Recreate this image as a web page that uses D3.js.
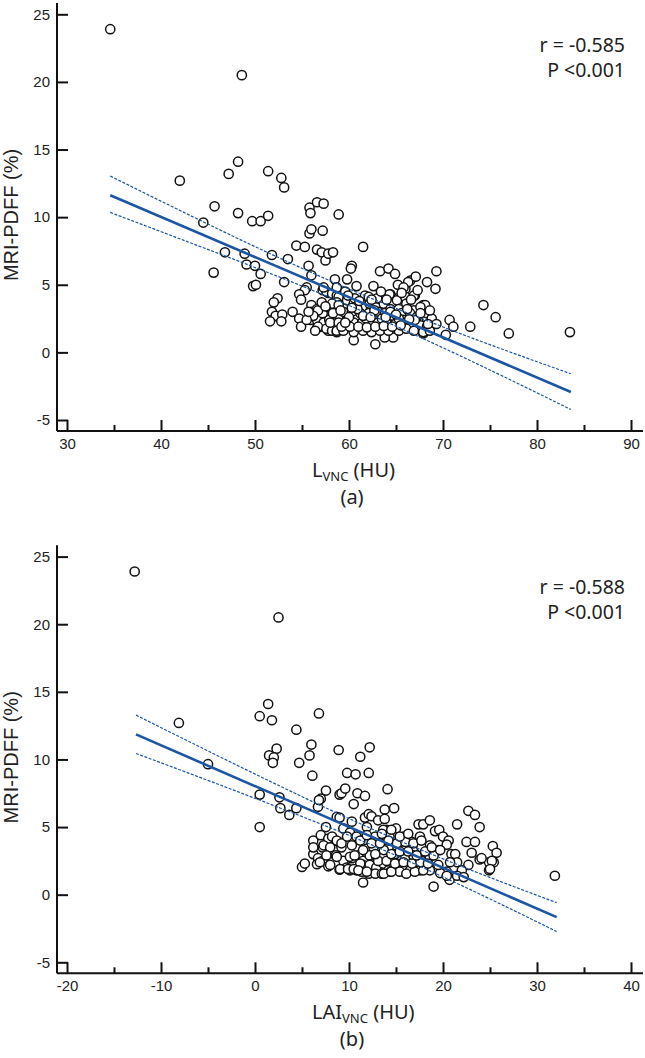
<!DOCTYPE html>
<html>
<head>
<meta charset="utf-8">
<script src="https://cdn.jsdelivr.net/npm/d3@7"></script>
<style>
  body { margin:0; background:#fff; }
  svg text { white-space: pre; }
</style>
</head>
<body>
<svg id="chart" width="645" height="1058"></svg>
<script>
// panel (a): L_VNC (HU) vs MRI-PDFF (%)
var puntosA = [
  [34.6,23.9],[48.6,20.5],[42.0,12.7],[47.2,13.2],[48.2,14.1],[45.7,10.8],[48.2,10.3],[51.4,13.4],[52.8,12.9],[53.1,12.2],
  [55.8,10.7],[55.9,10.3],[56.6,11.1],[57.3,11.0],[44.5,9.6],[49.7,9.7],[50.6,9.7],[51.4,10.1],[55.8,8.8],[56.0,9.1],
  [57.2,9.0],[58.9,10.2],[46.8,7.4],[45.6,5.9],[48.9,7.3],[49.1,6.5],[50.0,6.4],[50.6,5.8],[49.8,4.9],[50.1,5.0],
  [51.8,7.2],[53.5,6.9],[53.1,5.2],[54.4,7.9],[55.3,7.8],[55.7,6.4],[56.0,5.7],[55.5,4.8],[55.3,4.6],[54.7,4.3],
  [54.9,3.9],[52.4,4.0],[52.0,3.7],[51.8,3.0],[52.2,2.7],[52.9,2.8],[51.6,2.3],[52.8,2.3],[54.0,3.0],[54.7,2.5],
  [54.9,1.9],[56.6,7.6],[57.1,7.4],[57.5,6.8],[57.8,7.3],[58.3,7.4],[58.5,5.4],[61.5,7.8],[60.3,6.4],[60.2,6.2],
  [63.3,6.0],[64.2,6.2],[64.9,5.8],[66.5,5.3],[67.1,5.6],[69.3,6.0],[65.2,5.0],[66.0,4.7],[68.3,5.2],[69.2,4.7],
  [66.3,5.2],[59.8,5.4],[65.8,4.8],[74.3,3.5],[75.6,2.6],[77.0,1.4],[83.5,1.5],[70.7,2.4],[71.1,1.9],[72.9,1.9],
  [70.3,1.3],[67.9,1.4],[69.0,2.1],[68.3,2.5],[67.9,3.5],[67.0,4.2],[66.1,3.9],[65.2,4.0],[64.4,4.3],[62.8,0.6],
  [60.5,0.9],[64.7,1.1],[63.8,1.1],
  [56.0,3.5],[56.0,3.0],[56.6,3.2],[55.9,2.4],[56.6,2.4],[56.6,1.8],[57.1,1.9],[57.6,1.9],[57.8,1.6],[57.2,4.6],
  [57.8,4.4],[57.2,2.9],[57.6,4.5],[58.2,4.35],[58.7,4.2],[56.7,3.1],[56.2,2.7],[57.8,3.35],[58.3,3.1],[58.9,2.7],
  [57.3,2.2],[57.9,2.4],[58.5,2.2],[56.7,1.9],[57.6,1.75],[58.2,1.6],[58.7,1.5],[56.4,1.6],[55.5,2.4],[55.7,3.0],
  [57.3,4.8],[58.9,4.1],[58.7,3.7],[57.1,3.7],
  [58.7,4.8],[59.6,4.5],[60.8,4.9],[61.7,4.2],[62.6,4.9],[62.1,4.1],[63.3,3.7],[64.3,4.3],[65.1,3.85],[66.0,4.1],
  [66.9,4.2],[68.1,3.5],[58.2,3.6],[58.9,3.5],[59.8,3.85],[60.5,3.6],[61.4,3.35],[62.2,3.6],[62.9,3.35],[63.7,3.6],
  [64.4,3.2],[65.3,3.2],[66.1,3.6],[66.9,3.1],[67.6,3.35],[68.3,2.9],[68.8,2.5],[58.3,2.9],[59.4,3.0],[60.3,3.0],
  [61.2,2.9],[62.1,2.9],[63.1,3.0],[63.8,2.9],[64.7,2.7],[65.6,2.9],[66.5,2.9],[67.2,2.6],[58.0,2.2],[58.9,2.2],
  [59.8,2.4],[60.5,2.2],[61.4,2.2],[62.2,2.2],[63.1,2.2],[64.0,2.2],[64.9,2.1],[65.8,2.4],[66.7,2.1],[67.6,2.0],
  [68.3,1.9],[58.7,1.6],[59.4,1.6],[60.5,1.5],[61.5,1.6],[62.4,1.5],[63.3,1.6],[64.2,1.6],[65.3,1.6],[66.1,1.75],
  [66.9,1.6],[67.9,1.5],[68.6,1.6],[69.3,2.1],
  [59.1,3.1],[60.0,2.6],[60.9,3.2],[61.8,2.5],[62.7,3.1],[63.5,2.5],[64.4,3.0],[65.3,2.5],[66.2,3.2],[67.0,2.4],
  [59.2,1.9],[60.1,1.9],[61.0,1.9],[61.9,1.85],[62.8,1.9],[63.7,1.95],[64.6,1.9],[65.5,2.0],[66.4,2.45],[60.6,4.0],
  [61.1,3.8],[63.0,4.0],[64.0,3.9],[65.6,4.4],[66.6,3.9],[67.3,4.6],[67.6,2.9],[68.4,2.1],[68.6,3.1],[60.3,3.3],
  [62.4,3.9],[63.9,2.6],[65.0,2.8],[61.5,2.7],[59.9,4.2],[62.3,2.6],[57.5,3.4],[59.6,2.2],[63.4,4.5]
];

// panel (b): LAI_VNC (HU) vs MRI-PDFF (%)
var puntosB = [
  [-12.8,23.9],[2.5,20.5],[-8.1,12.7],[1.4,14.1],[0.5,13.2],[1.8,12.9],[4.4,12.2],[6.8,13.4],[2.3,10.8],[1.5,10.3],
  [2.0,10.15],[6.0,11.1],[5.8,10.3],[-5.0,9.65],[1.9,9.75],[4.7,9.75],[6.1,8.8],[0.5,7.4],[2.6,7.2],[2.7,6.4],
  [3.65,5.9],[4.4,6.4],[0.5,5.0],[6.7,6.5],[7.0,7.1],[7.55,7.7],[8.9,10.7],[11.2,10.2],[12.2,10.9],[9.8,9.0],
  [10.7,8.9],[12.1,9.0],[14.1,7.8],[6.8,7.0],[9.0,7.4],[9.2,7.5],[9.6,7.85],[10.9,7.5],[11.7,7.3],[10.5,6.7],
  [13.8,6.3],[8.7,5.75],[9.0,5.7],[10.3,5.4],[11.7,5.7],[12.1,5.95],[12.4,5.8],[13.1,5.5],[13.8,5.6],[14.8,6.4],
  [22.7,6.2],[23.4,5.9],[21.5,5.2],[23.9,5.0],[17.4,5.2],[17.9,5.2],[18.6,5.5],[19.15,4.7],[19.6,4.8],[20.0,4.3],
  [20.6,4.0],[15.0,4.9],[14.0,4.8],[22.5,3.9],[23.4,3.9],[25.3,3.6],[25.7,3.1],[23.05,3.1],[23.9,2.6],[24.9,2.4],
  [25.4,2.4],[24.9,1.8],[22.7,2.2],[22.0,1.8],[20.9,3.0],[21.3,3.0],[21.5,2.4],[20.75,2.4],[20.4,1.7],[19.7,1.6],
  [20.7,1.1],[19.0,0.6],[31.9,1.4],[11.5,0.9],[21.5,1.4],[22.2,1.3],[20.4,1.4],[24.1,2.7],[25.2,2.5],[25.0,1.9],
  [6.2,4.0],[7.0,4.4],[7.2,3.5],[7.8,4.15],[6.2,3.0],[6.7,2.7],[7.2,2.5],[6.6,2.25],[5.0,2.05],[5.3,2.3],
  [7.8,2.1],[7.55,5.0],[6.2,3.5],[7.3,3.65],[8.2,4.3],[8.9,3.9],[8.0,3.5],[9.2,3.5],[6.9,2.4],[7.6,2.9],
  [8.6,2.9],[8.0,2.2],[9.4,2.5],[9.75,2.0],[10.1,1.8],[10.8,1.8],[10.3,2.7],[11.0,2.9],[11.5,2.5],[11.9,3.4],
  [12.6,3.5],[12.2,2.9],[12.9,2.8],[13.65,3.0],[14.2,3.5],[11.5,2.2],[12.2,2.2],[12.9,2.0],[13.65,2.3],[14.2,1.8],
  [11.35,1.7],[12.1,1.55],[12.8,1.55],[13.5,1.55],[9.0,1.85],[9.4,4.9],[10.1,4.6],[10.8,4.3],[11.9,5.0],[12.8,4.3],
  [13.65,4.8],[14.3,4.3],[8.7,4.0],[9.2,3.8],[8.7,2.8],[9.05,1.9],[9.9,1.9],[10.1,2.8],[10.6,2.9],[11.2,2.3],
  [11.5,3.3],[10.5,1.9],[11.0,1.8],[11.9,1.7],[10.3,3.65],[9.8,4.3],[11.2,4.0],[11.9,4.4],
  [17.55,4.3],[18.6,3.65],[19.5,3.3],[20.4,3.7],[17.7,3.5],[16.7,3.9],[15.8,4.3],[18.6,2.8],[17.7,2.5],[16.85,2.3],
  [15.96,2.7],[15.07,2.3],[14.4,1.7],[15.4,1.7],[16.5,1.8],[17.55,1.8],[18.6,1.8],[19.5,2.2],[14.2,3.5],[14.9,3.0],
  [13.65,2.8],[15.8,3.3],[16.85,2.9],[15.25,3.8],[13.7,1.55],[14.5,1.7],[16.1,1.55],[17.0,1.7],[17.9,1.8],[13.1,2.5],
  [14.0,2.5],[14.9,2.3],[15.8,2.4],[16.7,2.3],[17.6,2.4],[18.4,2.3],[12.8,3.0],[13.7,3.3],[14.5,3.0],[15.4,3.2],
  [16.3,3.2],[17.2,2.9],[18.1,3.2],[19.0,2.9],[12.4,3.8],[13.3,3.8],[14.2,4.0],[15.1,3.8],[16.0,3.9],[16.85,3.8],
  [17.7,4.0],[18.8,3.5],[19.7,3.3],[13.5,4.5],[14.5,4.8],[15.4,4.3],[16.3,4.5]
];

// regression line and 95% CI
var ajusteXA = [34.6, 83.6];
var ajusteYA = [11.62, -2.93];
var ciXA = [34.6, 42, 50, 60, 70, 83.6];
var ciSupA = [13.04, 10.5, 7.82, 4.69, 1.88, -1.58];
var ciInfA = [10.35, 8.4, 6.28, 3.47, 0.34, -4.22];

var ajusteXB = [-12.66, 32.09];
var ajusteYB = [11.85, -1.66];
var ciXB = [-12.66, -5, 2, 12, 22, 32.09];
var ciSupB = [13.28, 10.63, 8.25, 5.0, 2.09, -0.59];
var ciInfB = [10.44, 8.45, 6.59, 3.8, 0.67, -2.72];

var ticksXA = [30, 40, 50, 60, 70, 80, 90];
var menoresXA = [35, 45, 55, 65, 75, 85];
var ticksXB = [-20, -10, 0, 10, 20, 30, 40];
var menoresXB = [-15, -5, 5, 15, 25, 35];
var ticksY = [-5, 0, 5, 10, 15, 20, 25];

var azul = "#1b55a3";
var svg = d3.select("#chart");

function dibujarPanel(offY, puntos, tX, mX, ajX, ajY, ciX, ciSup, ciInf, etiqueta, stats, letra){

    var g = svg.append("g").attr("transform", "translate(0," + offY + ")");

    var x = d3.scaleLinear().domain([tX[0], tX[tX.length-1]]).range([67, 631]);
    var y = d3.scaleLinear().domain([-5, 25]).range([420, 14.3]);

    // ejes
    g.append("line").attr("x1",57).attr("x2",643).attr("y1",431).attr("y2",431)
        .attr("stroke","#111").attr("stroke-width",2);
    g.append("line").attr("x1",57).attr("x2",57).attr("y1",3).attr("y2",431)
        .attr("stroke","#111").attr("stroke-width",2);

    var ax = g.append("g").attr("transform","translate(0,431)")
        .call(d3.axisBottom(x).tickValues(tX).tickSize(-11).tickPadding(7).tickFormat(function(d){ return String(d); }));
    ax.select(".domain").remove();

    var axm = g.append("g").attr("transform","translate(0,431)")
        .call(d3.axisBottom(x).tickValues(mX).tickSize(-6).tickFormat(""));
    axm.select(".domain").remove();

    var ay = g.append("g").attr("transform","translate(57,0)")
        .call(d3.axisLeft(y).tickValues(ticksY).tickSize(-11).tickPadding(7).tickFormat(function(d){ return String(d); }));
    ay.select(".domain").remove();

    g.selectAll(".tick line").attr("stroke","#111").attr("stroke-width",2);
    g.selectAll(".tick text")
        .style("font-family","'Liberation Sans', Arial, sans-serif")
        .style("font-size","15px")
        .attr("fill","#222");

    // puntos
    g.selectAll("circle.pt").data(puntos).enter().append("circle")
        .attr("class","pt")
        .attr("cx", function(d){ return x(d[0]); })
        .attr("cy", function(d){ return y(d[1]); })
        .attr("r", 4.6)
        .attr("fill","#fff")
        .attr("stroke","#111")
        .attr("stroke-width",1.5);

    // regresion
    var linea = d3.line().x(function(d){ return x(d[0]); }).y(function(d){ return y(d[1]); });
    var curva = d3.line().x(function(d){ return x(d[0]); }).y(function(d){ return y(d[1]); }).curve(d3.curveMonotoneX);

    g.append("path").datum(ciX.map(function(v,i){ return [v, ciSup[i]]; }))
        .attr("d", curva).attr("fill","none").attr("stroke",azul).attr("stroke-width",1.2).attr("stroke-dasharray","3,1.5");
    g.append("path").datum(ciX.map(function(v,i){ return [v, ciInf[i]]; }))
        .attr("d", curva).attr("fill","none").attr("stroke",azul).attr("stroke-width",1.2).attr("stroke-dasharray","3,1.5");
    g.append("path").datum(ajX.map(function(v,i){ return [v, ajY[i]]; }))
        .attr("d", linea).attr("fill","none").attr("stroke",azul).attr("stroke-width",2.6);

    // titulos
    g.append("text")
        .attr("transform","translate(18,215) rotate(-90)")
        .attr("text-anchor","middle")
        .style("font-family","'Liberation Sans', Arial, sans-serif")
        .style("font-size","20px")
        .attr("fill","#222")
        .text("MRI-PDFF (%)");

    var tx = g.append("text")
        .attr("x",312).attr("y",477)
        .style("font-family","'Noto Sans', 'Open Sans', sans-serif")
        .style("font-size","20px")
        .attr("fill","#222");
    tx.append("tspan").text(etiqueta);
    tx.append("tspan").attr("dy",4).style("font-size","13px").text("VNC");
    tx.append("tspan").attr("dy",-4).text(" (HU)");

    g.append("text")
        .attr("x",352).attr("y",504)
        .attr("text-anchor","middle")
        .style("font-family","'Noto Sans', 'Open Sans', sans-serif")
        .style("font-size","20px")
        .attr("fill","#222")
        .text(letra);

    g.selectAll("text.stat").data(stats).enter().append("text")
        .attr("class","stat")
        .attr("x",625)
        .attr("y",function(d,i){ return 52 + i*25; })
        .attr("text-anchor","end")
        .style("font-family","'Noto Sans', 'Open Sans', sans-serif")
        .style("font-size","19.5px")
        .attr("fill","#222")
        .text(function(d){ return d; });
}

dibujarPanel(0, puntosA, ticksXA, menoresXA, ajusteXA, ajusteYA, ciXA, ciSupA, ciInfA, "L", ["r = -0.585","P <0.001"], "(a)");
dibujarPanel(542.3, puntosB, ticksXB, menoresXB, ajusteXB, ajusteYB, ciXB, ciSupB, ciInfB, "LAI", ["r = -0.588","P <0.001"], "(b)");
</script>
</body>
</html>
